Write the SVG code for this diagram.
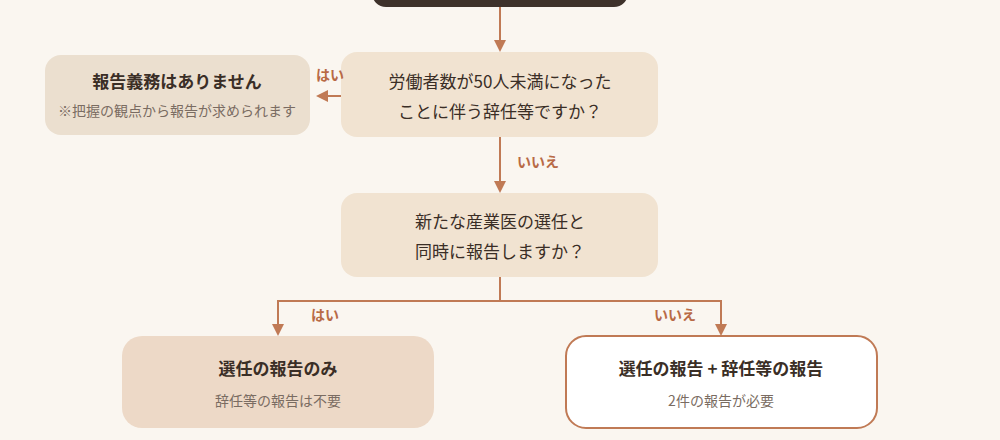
<svg xmlns="http://www.w3.org/2000/svg" width="1000" height="440" viewBox="0 0 1000 440">
<style>
text{font-family:"Noto Sans CJK JP","Noto Sans",sans-serif;text-anchor:middle}
.t{font-size:17px;fill:#3a2e26}
.b{font-size:17px;font-weight:700;fill:#3a2e26}
.s{font-size:14px;fill:#7a6c62}
.l{font-size:14px;font-weight:700;fill:#b86a45;text-anchor:start}
.c{stroke:#c07a55;stroke-width:2;fill:none}
</style>
<defs><marker id="a" markerWidth="12" markerHeight="12" refX="10" refY="6" orient="auto" markerUnits="userSpaceOnUse"><path d="M0,0 L12,6 L0,12 z" fill="#c07a55"/></marker></defs>
<rect width="1000" height="440" fill="#faf6f0"/>
<g id="start"><rect x="372" y="-30" width="256" height="37" rx="14" fill="#3e322b"/></g>
<g id="q1"><rect x="341" y="52" width="317" height="85" rx="16" fill="#f1e3d1"/><text class="t" x="500" y="88">労働者数が50人未満になった</text><text class="t" x="500" y="118">ことに伴う辞任等ですか？</text></g>
<g id="none"><rect x="45" y="55" width="265" height="80" rx="16" fill="#ebdfcf"/><text class="b" x="177" y="88">報告義務はありません</text><text class="s" x="177" y="116">※把握の観点から報告が求められます</text></g>
<g id="q2"><rect x="341" y="193" width="317" height="84" rx="16" fill="#f1e3d1"/><text class="t" x="500" y="228">新たな産業医の選任と</text><text class="t" x="500" y="258">同時に報告しますか？</text></g>
<g id="r1"><rect x="122" y="336" width="312" height="92" rx="20" fill="#edd9c7"/><text class="b" x="278" y="375">選任の報告のみ</text><text class="s" x="278" y="406">辞任等の報告は不要</text></g>
<g id="r2"><rect x="566" y="336" width="311" height="92" rx="20" fill="#fff" stroke="#c07a55" stroke-width="2"/><text class="b" x="721" y="375">選任の報告 + 辞任等の報告</text><text class="s" x="721" y="406">2件の報告が必要</text></g>
<g id="connectors">
<path class="c" d="M500,7 V50" marker-end="url(#a)"/>
<path class="c" d="M341,96 H318" marker-end="url(#a)"/>
<path class="c" d="M500,137 V191" marker-end="url(#a)"/>
<path class="c" d="M500,277 V301 H278 V334" marker-end="url(#a)"/>
<path class="c" d="M500,301 H721 V334" marker-end="url(#a)"/>
<text class="l" x="316" y="80">はい</text>
<text class="l" x="517" y="167">いいえ</text>
<text class="l" x="311" y="320">はい</text>
<text class="l" x="654" y="320">いいえ</text>
</g>
</svg>
